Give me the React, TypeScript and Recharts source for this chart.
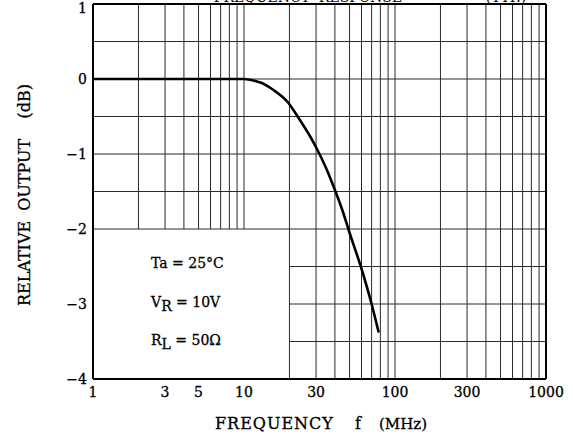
import { LineChart, Line, XAxis, YAxis, ReferenceLine } from "recharts";

const freqs = [1, 5, 10, 12, 13, 15.5, 19.5, 23.5, 27.5, 30, 35, 40, 45, 50, 60, 70, 78];
const relOutput = [0, 0, 0, -0.03, -0.05, -0.14, -0.31, -0.55, -0.77, -0.91, -1.19, -1.48, -1.76, -2.05, -2.53, -3.0, -3.38];

const xTicks = [1, 3, 5, 10, 30, 100, 300, 1000];
const yTicks = [-4, -3, -2, -1, 0, 1];

// minor grid positions (log decades) and half-dB rows
const vGrid = [2, 3, 4, 5, 6, 7, 8, 9, 10, 20, 30, 40, 50, 60, 70, 80, 90, 100, 200, 300, 400, 500, 600, 700, 800, 900];
const hGrid = [0.5, 0, -0.5, -1, -1.5, -2, -2.5, -3, -3.5];

const data = freqs.map((f, i) => ({ f, db: relOutput[i] }));

const FONT = "'DejaVu Serif', serif";
const GRID = "#2a2a2a";
const ink = { fill: "#000", stroke: "#000", strokeWidth: 0.3 };

export default function App() {
  const tickStyle = { fontFamily: FONT, fontSize: 14, ...ink };
  return (
    <div style={{ position: "absolute", left: 0, top: 0, width: 573, height: 444, background: "#fff" }}>
      <LineChart width={573} height={444} data={data} margin={{ top: 4, right: 27, bottom: 0, left: 0 }}>
        <XAxis
          dataKey="f"
          type="number"
          scale="log"
          domain={[1, 1000]}
          ticks={xTicks}
          allowDataOverflow
          height={65}
          tickLine={false}
          tickSize={0}
          tickMargin={8}
          axisLine={{ stroke: "#000", strokeWidth: 2 }}
          tick={tickStyle}
        />
        <YAxis
          type="number"
          domain={[-4, 1]}
          ticks={yTicks}
          width={93}
          tickLine={false}
          tickSize={0}
          tickMargin={6}
          axisLine={{ stroke: "#000", strokeWidth: 2 }}
          tick={tickStyle}
          tickFormatter={(v: number) => String(v).replace("-", "\u2212")}
        />
        {vGrid.map((v) => (
          <ReferenceLine
            key={"v" + v}
            segment={v < 20 ? [{ x: v, y: -2 }, { x: v, y: 1 }] : [{ x: v, y: -4 }, { x: v, y: 1 }]}
            stroke={GRID}
            strokeWidth={1}
          />
        ))}
        {hGrid.map((h) => (
          <ReferenceLine
            key={"h" + h}
            segment={h < -2 ? [{ x: 20, y: h }, { x: 1000, y: h }] : [{ x: 1, y: h }, { x: 1000, y: h }]}
            stroke={GRID}
            strokeWidth={1}
          />
        ))}
        <ReferenceLine y={1} stroke="#000" strokeWidth={2} />
        <ReferenceLine x={1000} stroke="#000" strokeWidth={2} />
        <Line
          type="monotone"
          dataKey="db"
          stroke="#000"
          strokeWidth={2.6}
          dot={false}
          isAnimationActive={false}
        />
        <text x={308} y={2} textAnchor="middle" fontFamily={FONT} fontSize={14} style={{ whiteSpace: "pre" }}>
          FREQUENCY  RESPONSE
        </text>
        <text x={506} y={2} textAnchor="middle" fontFamily={FONT} fontSize={14}>
          (TYP.)
        </text>
        <g fontFamily={FONT} fontSize={14} {...ink}>
          <text x={151} y={268}>Ta = 25°C</text>
          <text x={151} y={307}>
            V<tspan dy={4}>R</tspan>
            <tspan dy={-4}> = 10V</tspan>
          </text>
          <text x={151} y={345}>
            R<tspan dy={4}>L</tspan>
            <tspan dy={-4}> = 50Ω</tspan>
          </text>
        </g>
        <g fontFamily={FONT} {...ink}>
          <text x={215} y={429} fontSize={16} letterSpacing={1}>
            FREQUENCY
          </text>
          <text x={358} y={429} fontSize={16} textAnchor="middle">
            f
          </text>
          <text x={379} y={429} fontSize={15}>
            (MHz)
          </text>
        </g>
        <text
          x={24}
          y={195}
          textAnchor="middle"
          dominantBaseline="central"
          transform="rotate(-90 24 195)"
          fontFamily={FONT}
          fontSize={16}
          style={{ whiteSpace: "pre" }}
          {...ink}
        >
          {"RELATIVE  OUTPUT    (dB)"}
        </text>
      </LineChart>
    </div>
  );
}
